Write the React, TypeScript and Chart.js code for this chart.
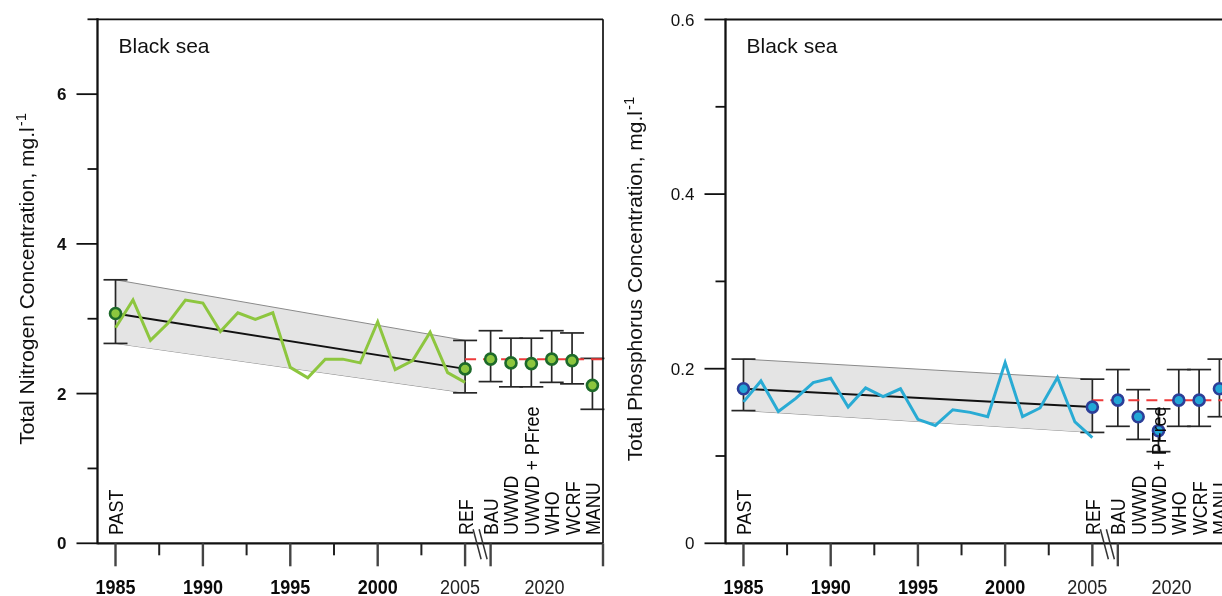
import React, { useEffect, useRef } from 'react';
import { Chart, registerables } from 'chart.js';

Chart.register(...registerables);

// Annual observations 1985–2005
const YEARS = [1985, 1986, 1987, 1988, 1989, 1990, 1991, 1992, 1993, 1994, 1995, 1996, 1997, 1998, 1999, 2000, 2001, 2002, 2003, 2004, 2005];
const NITROGEN_ANNUAL = [2.88, 3.25, 2.71, 2.94, 3.25, 3.21, 2.83, 3.08, 2.99, 3.08, 2.35, 2.21, 2.46, 2.46, 2.41, 2.96, 2.32, 2.44, 2.82, 2.28, 2.15];
const PHOSPHORUS_ANNUAL = [0.162, 0.186, 0.151, 0.166, 0.184, 0.189, 0.156, 0.178, 0.168, 0.177, 0.142, 0.135, 0.153, 0.150, 0.145, 0.207, 0.145, 0.155, 0.190, 0.139, 0.121];

// Reference periods: mean, lower bound, upper bound
const NITROGEN_PAST = [3.07, 2.67, 3.52];
const NITROGEN_REF = [2.33, 2.01, 2.71];
const PHOSPHORUS_PAST = [0.177, 0.152, 0.211];
const PHOSPHORUS_REF = [0.156, 0.127, 0.188];

// 2020 scenarios
const SCENARIOS = ['BAU', 'UWWD', 'UWWD + PFree', 'WHO', 'WCRF', 'MANU'];
const NITROGEN_SCENARIO = [2.46, 2.41, 2.40, 2.46, 2.44, 2.11];
const NITROGEN_SCENARIO_LOW = [2.16, 2.09, 2.09, 2.15, 2.13, 1.79];
const NITROGEN_SCENARIO_HIGH = [2.84, 2.74, 2.74, 2.84, 2.81, 2.47];
const PHOSPHORUS_SCENARIO = [0.164, 0.145, 0.129, 0.164, 0.164, 0.177];
const PHOSPHORUS_SCENARIO_LOW = [0.134, 0.119, 0.105, 0.134, 0.134, 0.145];
const PHOSPHORUS_SCENARIO_HIGH = [0.199, 0.176, 0.154, 0.199, 0.199, 0.211];

// Axis ticks
const YEAR_TICKS = [1985, 1990, 1995, 2000, 2005];
const YEAR_LABELS = ['1985', '1990', '1995', '2000', '2005'];
const NITROGEN_Y_TICKS = [0, 2, 4, 6];
const NITROGEN_Y_LABELS = ['0', '2', '4', '6'];
const PHOSPHORUS_Y_TICKS = [0, 0.2, 0.4, 0.6];
const PHOSPHORUS_Y_LABELS = ['0', '0.2', '0.4', '0.6'];

const FONT = '"Liberation Sans", Arial, Helvetica, sans-serif';
const X_MIN = 1983.97;
const X_MAX = 2012.89;
const PAST_YEAR = YEARS[0];
const REF_YEAR = YEARS[YEARS.length - 1];

// scenario slots sit on a broken stretch of the time axis after 2005
const slotX = (i: number) => REF_YEAR + 1.46 + i * 1.165;
const BREAK_X = REF_YEAR + 0.86;
const LABEL_2020_X = REF_YEAR + 4.54;

type Panel = {
  annual: number[];
  past: number[];
  ref: number[];
  scen: number[];
  scenLow: number[];
  scenHigh: number[];
  yMax: number;
  yStep: number;
  yTicks: number[];
  yLabels: string[];
  yLabelBold: boolean;
  yTitle: string;
  titleX: number;
  lineColor: string;
  markerFill: string;
  markerStroke: string;
};

const NITROGEN_PANEL: Panel = {
  annual: NITROGEN_ANNUAL,
  past: NITROGEN_PAST,
  ref: NITROGEN_REF,
  scen: NITROGEN_SCENARIO,
  scenLow: NITROGEN_SCENARIO_LOW,
  scenHigh: NITROGEN_SCENARIO_HIGH,
  yMax: 7,
  yStep: 1,
  yTicks: NITROGEN_Y_TICKS,
  yLabels: NITROGEN_Y_LABELS,
  yLabelBold: true,
  yTitle: 'Total Nitrogen Concentration, mg.l',
  titleX: 33.5,
  lineColor: '#8dc63f',
  markerFill: '#8cc63e',
  markerStroke: '#1d6a2a',
};

const PHOSPHORUS_PANEL: Panel = {
  annual: PHOSPHORUS_ANNUAL,
  past: PHOSPHORUS_PAST,
  ref: PHOSPHORUS_REF,
  scen: PHOSPHORUS_SCENARIO,
  scenLow: PHOSPHORUS_SCENARIO_LOW,
  scenHigh: PHOSPHORUS_SCENARIO_HIGH,
  yMax: 0.6,
  yStep: 0.1,
  yTicks: PHOSPHORUS_Y_TICKS,
  yLabels: PHOSPHORUS_Y_LABELS,
  yLabelBold: false,
  yTitle: 'Total Phosphorus Concentration, mg.l',
  titleX: 29.5,
  lineColor: '#29abd4',
  markerFill: '#22a7d6',
  markerStroke: '#2c3e98',
};

function drawText(
  ctx: CanvasRenderingContext2D,
  text: string,
  x: number,
  y: number,
  font: string,
  color: string,
  align: CanvasTextAlign,
  rotate = 0,
  sx = 1
) {
  ctx.save();
  ctx.translate(x, y);
  if (rotate) ctx.rotate(rotate);
  ctx.scale(sx, 1);
  ctx.font = font;
  ctx.fillStyle = color;
  ctx.textAlign = align;
  ctx.textBaseline = 'alphabetic';
  ctx.fillText(text, 0, 0);
  ctx.restore();
}

function line(ctx: CanvasRenderingContext2D, x1: number, y1: number, x2: number, y2: number, color: string, width: number) {
  ctx.beginPath();
  ctx.moveTo(x1, y1);
  ctx.lineTo(x2, y2);
  ctx.strokeStyle = color;
  ctx.lineWidth = width;
  ctx.stroke();
}

const BAND_UPPER = 4;

function buildConfig(p: Panel, padding: { left: number; right: number; top: number; bottom: number }) {
  const errorBars = [
    { x: PAST_YEAR, lo: p.past[1], hi: p.past[2] },
    { x: REF_YEAR, lo: p.ref[1], hi: p.ref[2] },
    ...SCENARIOS.map((_, i) => ({ x: slotX(i), lo: p.scenLow[i], hi: p.scenHigh[i] })),
  ];

  const markers = [
    { x: PAST_YEAR, y: p.past[0] },
    { x: REF_YEAR, y: p.ref[0] },
    ...SCENARIOS.map((_, i) => ({ x: slotX(i), y: p.scen[i] })),
  ];

  const decor = {
    id: 'panelDecor',
    afterDatasetDraw(chart: any, args: any) {
      if (args.index !== BAND_UPPER) return;
      const ctx: CanvasRenderingContext2D = chart.ctx;
      const xs = chart.scales.x;
      const ys = chart.scales.y;
      ctx.save();
      for (const b of errorBars) {
        const px = xs.getPixelForValue(b.x);
        const lo = ys.getPixelForValue(b.lo);
        const hi = ys.getPixelForValue(b.hi);
        line(ctx, px, hi, px, lo, '#262626', 1.7);
        line(ctx, px - 12, hi, px + 12, hi, '#262626', 1.7);
        line(ctx, px - 12, lo, px + 12, lo, '#262626', 1.7);
      }
      ctx.restore();
    },
    afterDraw(chart: any) {
      const ctx: CanvasRenderingContext2D = chart.ctx;
      const xs = chart.scales.x;
      const ys = chart.scales.y;
      const { left, right, top, bottom } = chart.chartArea;
      ctx.save();

      // frame
      line(ctx, left, top, right, top, '#111', 1.8);
      line(ctx, right, top, right, bottom, '#111', 1.7);
      line(ctx, left, bottom, right, bottom, '#111', 2.2);
      line(ctx, left, top - 1, left, bottom + 1, '#111', 2.3);

      // y ticks
      const nSteps = Math.round(p.yMax / p.yStep);
      for (let i = 0; i <= nSteps; i++) {
        const v = i * p.yStep;
        const major = p.yTicks.some((t) => Math.abs(t - v) < 1e-9);
        const py = ys.getPixelForValue(v);
        line(ctx, left - (major ? 21 : 10), py, left, py, '#111', 1.8);
      }
      p.yTicks.forEach((t, i) => {
        const py = ys.getPixelForValue(t);
        drawText(ctx, p.yLabels[i], left - 31, py + 6, `${p.yLabelBold ? 'bold ' : ''}17px ${FONT}`, '#111', 'right');
      });

      // x ticks
      const majorX = [...YEAR_TICKS, slotX(0), X_MAX];
      for (const v of majorX) {
        const px = xs.getPixelForValue(v);
        line(ctx, px, bottom, px, bottom + 23, '#444', 2.4);
      }
      for (let yr = YEAR_TICKS[0] + 2.5; yr < REF_YEAR; yr += 5) {
        const px = xs.getPixelForValue(yr);
        line(ctx, px, bottom, px, bottom + 12, '#222', 2);
      }

      // axis break marks
      const bx = xs.getPixelForValue(BREAK_X);
      for (const dx of [-3, 3]) {
        line(ctx, bx + dx - 4, bottom - 14, bx + dx + 4, bottom + 16, '#333', 1.5);
      }

      // year labels
      YEAR_TICKS.forEach((t, i) => {
        const px = xs.getPixelForValue(t);
        const last = t === REF_YEAR;
        drawText(
          ctx,
          YEAR_LABELS[i],
          last ? px - 5 : px,
          594,
          `${last ? '' : 'bold '}20px ${FONT}`,
          last ? '#222' : '#0a0a0a',
          'center',
          0,
          0.9
        );
      });
      drawText(ctx, '2020', xs.getPixelForValue(LABEL_2020_X), 594, `20px ${FONT}`, '#222', 'center', 0, 0.9);

      // period and scenario names
      const names = [
        { x: PAST_YEAR, t: 'PAST' },
        { x: REF_YEAR, t: 'REF' },
        ...SCENARIOS.map((s, i) => ({ x: slotX(i), t: s })),
      ];
      for (const n of names) {
        const px = xs.getPixelForValue(n.x);
        drawText(ctx, n.t, px + 7.5, 535, `21px ${FONT}`, '#0a0a0a', 'left', -Math.PI / 2, 0.85);
      }

      // panel title
      drawText(ctx, 'Black sea', left + 21, 52.5, `21px ${FONT}`, '#111', 'left');

      // y axis title with superscript unit exponent
      ctx.save();
      ctx.translate(p.titleX, (top + bottom) / 2 - 2);
      ctx.rotate(-Math.PI / 2);
      ctx.fillStyle = '#111';
      ctx.textBaseline = 'alphabetic';
      ctx.textAlign = 'left';
      ctx.font = `21px ${FONT}`;
      const w1 = ctx.measureText(p.yTitle).width;
      ctx.font = `15px ${FONT}`;
      const w2 = ctx.measureText('-1').width;
      const start = -(w1 + w2) / 2;
      ctx.font = `21px ${FONT}`;
      ctx.fillText(p.yTitle, start, 0);
      ctx.font = `15px ${FONT}`;
      ctx.fillText('-1', start + w1 + 1, -8);
      ctx.restore();

      ctx.restore();
    },
  };

  const annual = YEARS.map((yr, i) => ({ x: yr, y: p.annual[i] }));

  return {
    type: 'line' as const,
    data: {
      datasets: [
        {
          label: 'periods and scenarios',
          data: markers,
          showLine: false,
          pointRadius: 5.5,
          pointBorderWidth: 2.6,
          pointBackgroundColor: p.markerFill,
          pointBorderColor: p.markerStroke,
          order: 0,
        },
        {
          label: 'annual',
          data: annual,
          borderColor: p.lineColor,
          borderWidth: 3,
          pointRadius: 0,
          tension: 0,
          fill: false,
          order: 1,
        },
        {
          label: 'trend',
          data: [
            { x: PAST_YEAR, y: p.past[0] },
            { x: REF_YEAR, y: p.ref[0] },
          ],
          borderColor: '#111',
          borderWidth: 2,
          pointRadius: 0,
          fill: false,
          order: 2,
        },
        {
          label: 'BAU level',
          data: [
            { x: REF_YEAR, y: p.scen[0] },
            { x: X_MAX, y: p.scen[0] },
          ],
          borderColor: '#ee3b3b',
          borderWidth: 2,
          borderDash: [11, 7],
          pointRadius: 0,
          fill: false,
          order: 3,
        },
        {
          label: 'band upper',
          data: [
            { x: PAST_YEAR, y: p.past[2] },
            { x: REF_YEAR, y: p.ref[2] },
          ],
          borderColor: '#8a8a8a',
          borderWidth: 1,
          backgroundColor: '#e4e4e4',
          pointRadius: 0,
          fill: '+1',
          order: 4,
        },
        {
          label: 'band lower',
          data: [
            { x: PAST_YEAR, y: p.past[1] },
            { x: REF_YEAR, y: p.ref[1] },
          ],
          borderColor: '#8a8a8a',
          borderWidth: 1,
          pointRadius: 0,
          fill: false,
          order: 5,
        },
      ],
    },
    options: {
      animation: false as const,
      responsive: false,
      maintainAspectRatio: false,
      events: [],
      layout: { padding },
      plugins: {
        legend: { display: false },
        tooltip: { enabled: false },
        title: { display: false },
      },
      scales: {
        x: { type: 'linear' as const, min: X_MIN, max: X_MAX, display: false },
        y: { type: 'linear' as const, min: 0, max: p.yMax, display: false },
      },
    },
    plugins: [decor],
  };
}

function PanelChart({
  panel,
  left,
  width,
  padding,
}: {
  panel: Panel;
  left: number;
  width: number;
  padding: { left: number; right: number; top: number; bottom: number };
}) {
  const ref = useRef<HTMLCanvasElement>(null);
  useEffect(() => {
    const chart = new Chart(ref.current as HTMLCanvasElement, buildConfig(panel, padding) as any);
    return () => chart.destroy();
  }, []);
  return (
    <canvas
      ref={ref}
      width={width}
      height={596}
      style={{ position: 'absolute', left, top: 0, width, height: 596, display: 'block' }}
    />
  );
}

export default function App() {
  return (
    <div
      style={{
        position: 'fixed',
        left: 0,
        top: 0,
        width: 1222,
        height: 596,
        overflow: 'hidden',
        background: '#ffffff',
      }}
    >
      <PanelChart
        panel={NITROGEN_PANEL}
        left={0}
        width={612}
        padding={{ left: 97.5, right: 9, top: 19.3, bottom: 52.7 }}
      />
      <PanelChart
        panel={PHOSPHORUS_PANEL}
        left={612}
        width={628}
        padding={{ left: 113.5, right: 10, top: 19.5, bottom: 52.7 }}
      />
    </div>
  );
}
